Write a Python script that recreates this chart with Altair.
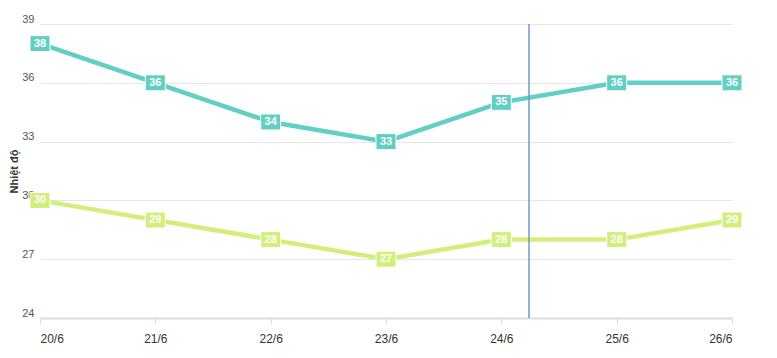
import altair as alt
import pandas as pd

days = ["20/6", "21/6", "22/6", "23/6", "24/6", "25/6", "26/6"]
high = [38, 36, 34, 33, 35, 36, 36]
low = [30, 29, 28, 27, 28, 28, 29]
series_names = ["Cao nhất", "Thấp nhất"]
series_colors = ["#62cfc4", "#d2ef7c"]
now_position = [4.24]
y_ticks = [24, 27, 30, 33, 36, 39]

rows = []
for i, d in enumerate(days):
    rows.append({"idx": i, "day": d, "temp": high[i], "series": series_names[0]})
    rows.append({"idx": i, "day": d, "temp": low[i], "series": series_names[1]})
df = pd.DataFrame(rows)
now_df = pd.DataFrame({"pos": now_position})

label_expr = "[" + ",".join("'%s'" % d for d in days) + "][datum.value]"

x = alt.X("idx:Q", scale=alt.Scale(domain=[0, len(days) - 1], nice=False),
          axis=alt.Axis(values=list(range(len(days))), labelExpr=label_expr, title=None,
                        grid=False, domain=True, domainColor="#dcdcdc", domainWidth=2,
                        ticks=True, tickColor="#dcdcdc", tickSize=6, tickWidth=1,
                        labelFontSize=12, labelColor="#333333", labelPadding=9,
                        labelFont="Liberation Sans"))
y = alt.Y("temp:Q", scale=alt.Scale(domain=[24, 39], nice=False, zero=False),
          axis=alt.Axis(values=y_ticks, title="Nhiệt độ", titleFontSize=11, titleFontWeight="bold",
                        titleColor="#333333", titlePadding=2, titleFont="Liberation Sans",
                        grid=True, gridColor="#e6e6e6", domain=False, ticks=False,
                        labelFontSize=11, labelColor="#555555", labelPadding=6,
                        labelFont="Liberation Sans", labelBaseline="bottom"))
color = alt.Color("series:N", scale=alt.Scale(domain=series_names, range=series_colors), legend=None)

lines = alt.Chart(df).mark_line(strokeWidth=4.5).encode(x=x, y=y, color=color, detail="series:N")

rule = alt.Chart(now_df).mark_rule(color="#6f98cc", strokeWidth=1.5).encode(x="pos:Q")

boxes = alt.Chart(df).mark_point(
    shape="M-1.25,-1H1.25V1H-1.25Z", size=256, filled=True, opacity=1,
    stroke="white", strokeWidth=1
).encode(x=x, y=y, fill=alt.Fill("series:N", scale=alt.Scale(domain=series_names, range=series_colors), legend=None))

texts = alt.Chart(df).mark_text(color="white", fontWeight="bold", fontSize=11,
                                font="Liberation Sans", baseline="middle", align="center").encode(
    x=x, y=y, text="temp:Q")

chart = alt.layer(lines, rule, boxes, texts).properties(
    width=692, height=294,
    autosize=alt.AutoSizeParams(type="none"),
    padding={"left": 32, "top": 16, "right": 37, "bottom": 28},
).configure_view(stroke=None)

chart.save("out.html", embed_options={"renderer": "svg", "actions": False})
